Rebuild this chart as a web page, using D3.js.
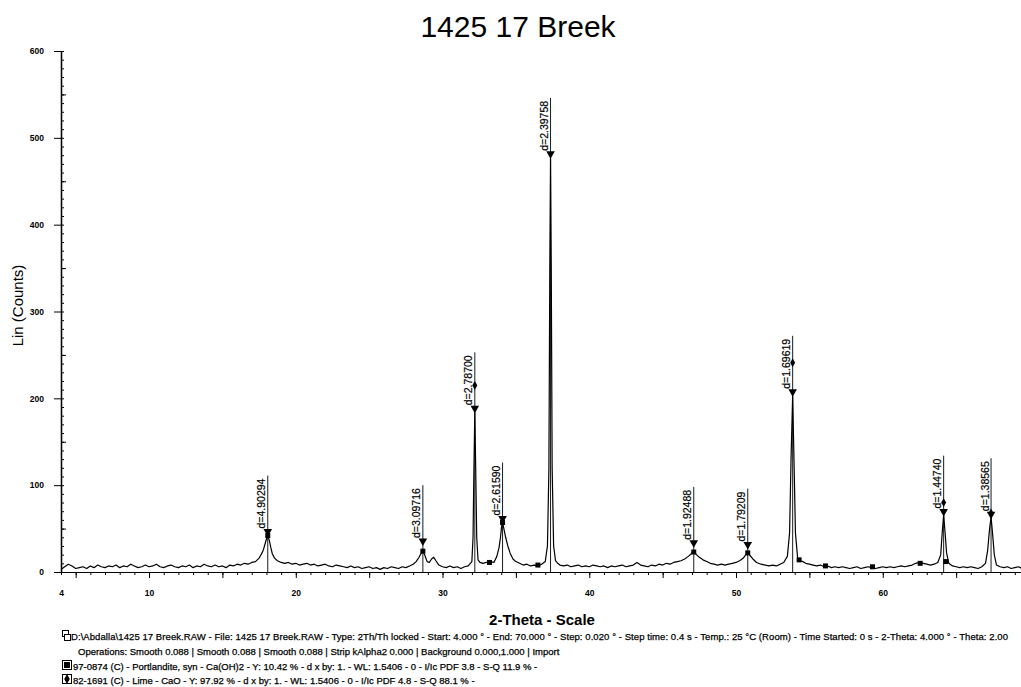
<!DOCTYPE html>
<html>
<head>
<meta charset="utf-8">
<script src="https://cdn.jsdelivr.net/npm/d3@7"></script>
<style>
  body { margin: 0; background: #fff; }
  svg { display: block; font-family: 'Liberation Sans', Arial, sans-serif; }
</style>
</head>
<body>
<svg id="chart" width="1021" height="687"></svg>
<script>
// scan: [2-theta, counts]
var scan = [
  [4.00, 3], [4.25, 6], [4.50, 9], [4.75, 7], [5.00, 4], [5.25, 5], [5.50, 6], [5.75, 4], [6.00, 7], [6.25, 5], [6.50, 8], [6.75, 6],
  [7.00, 5], [7.25, 7], [7.50, 6], [7.75, 8], [8.00, 5], [8.25, 7], [8.50, 6], [8.75, 9], [9.00, 7], [9.25, 5], [9.50, 6], [9.75, 8],
  [10.00, 6], [10.25, 7], [10.50, 9], [10.75, 6], [11.00, 5], [11.25, 7], [11.50, 8], [11.75, 6], [12.00, 5], [12.25, 7], [12.50, 6],
  [12.75, 8], [13.00, 5], [13.25, 7], [13.50, 6], [13.75, 9], [14.00, 7], [14.25, 6], [14.50, 8], [14.75, 6], [15.00, 7], [15.25, 5],
  [15.50, 8], [15.75, 7], [16.00, 9], [16.25, 8], [16.50, 10], [16.75, 9], [17.00, 11], [17.25, 12], [17.50, 16],
  [17.60, 19], [17.70, 22], [17.80, 26], [17.90, 32], [18.00, 38], [18.09, 42], [18.20, 36], [18.30, 28], [18.40, 21], [18.55, 16],
  [18.75, 13], [19.00, 11], [19.25, 10], [19.50, 11], [19.75, 9], [20.00, 10], [20.25, 8], [20.50, 9], [20.75, 10], [21.00, 8],
  [21.25, 9], [21.50, 7], [21.75, 8], [22.00, 9], [22.25, 7], [22.50, 6], [22.75, 8], [23.00, 7], [23.25, 6], [23.50, 5], [23.75, 7],
  [24.00, 5], [24.25, 6], [24.50, 4], [24.75, 5], [25.00, 6], [25.25, 4], [25.50, 5], [25.75, 3], [26.00, 5], [26.25, 4], [26.50, 6],
  [26.75, 5], [27.00, 4], [27.25, 6], [27.50, 5], [27.75, 7], [28.00, 9], [28.20, 12], [28.40, 17], [28.55, 22], [28.66, 25],
  [28.80, 19], [28.95, 12], [29.10, 11], [29.25, 15], [29.40, 17], [29.55, 13], [29.75, 8], [30.00, 6], [30.25, 5], [30.50, 7],
  [30.75, 5], [31.00, 6], [31.25, 4], [31.50, 6], [31.75, 7], [32.00, 12], [32.08, 40], [32.14, 120], [32.20, 184], [32.26, 120],
  [32.33, 40], [32.42, 14], [32.55, 11], [32.75, 10], [33.00, 11], [33.25, 12], [33.50, 11], [33.70, 18], [33.85, 28], [33.95, 40],
  [34.02, 52], [34.09, 57], [34.18, 50], [34.30, 40], [34.45, 30], [34.60, 22], [34.80, 15], [35.00, 12], [35.25, 10], [35.50, 8],
  [35.75, 9], [36.00, 7], [36.25, 8], [36.50, 7], [36.75, 9], [37.00, 12], [37.15, 30], [37.25, 120], [37.31, 350], [37.36, 477],
  [37.41, 350], [37.47, 120], [37.57, 30], [37.70, 13], [37.85, 10], [38.00, 8], [38.25, 7], [38.50, 8], [38.75, 6], [39.00, 7],
  [39.25, 8], [39.50, 6], [39.75, 7], [40.00, 6], [40.25, 8], [40.50, 7], [40.75, 6], [41.00, 7], [41.25, 5], [41.50, 7], [41.75, 6],
  [42.00, 7], [42.25, 8], [42.50, 6], [42.75, 7], [43.00, 8], [43.25, 11], [43.50, 8], [43.75, 7], [44.00, 6], [44.25, 8], [44.50, 7],
  [44.75, 9], [45.00, 8], [45.25, 10], [45.50, 9], [45.75, 11], [46.00, 12], [46.25, 13], [46.50, 15], [46.75, 18], [46.95, 21],
  [47.12, 24], [47.30, 20], [47.50, 17], [47.75, 14], [48.00, 12], [48.25, 10], [48.50, 9], [48.75, 8], [49.00, 9], [49.25, 8],
  [49.50, 9], [49.75, 10], [50.00, 11], [50.25, 13], [50.50, 16], [50.70, 21], [50.80, 23], [50.95, 19], [51.15, 15], [51.40, 11],
  [51.70, 9], [52.00, 8], [52.25, 7], [52.50, 8], [52.75, 7], [53.00, 9], [53.25, 11], [53.50, 18], [53.65, 45], [53.75, 130],
  [53.86, 203], [53.95, 130], [54.05, 45], [54.20, 16], [54.40, 13], [54.55, 12], [54.75, 10], [55.00, 9], [55.25, 8], [55.50, 7],
  [55.75, 8], [56.00, 6], [56.25, 7], [56.50, 5], [56.75, 6], [57.00, 5], [57.25, 6], [57.50, 5], [57.75, 4], [58.00, 5], [58.25, 6],
  [58.50, 4], [58.75, 5], [59.00, 6], [59.25, 5], [59.50, 4], [59.75, 5], [60.00, 6], [60.25, 5], [60.50, 6], [60.75, 5], [61.00, 6],
  [61.25, 7], [61.50, 6], [61.75, 7], [62.00, 8], [62.25, 10], [62.50, 11], [62.75, 10], [63.00, 9], [63.25, 8], [63.50, 9],
  [63.75, 11], [63.95, 20], [64.05, 45], [64.15, 66], [64.25, 45], [64.35, 22], [64.50, 10], [64.75, 7], [65.00, 6], [65.25, 5],
  [65.50, 6], [65.75, 5], [66.00, 6], [66.25, 5], [66.50, 4], [66.75, 6], [67.00, 10], [67.15, 25], [67.28, 50], [67.38, 63],
  [67.48, 45], [67.60, 20], [67.75, 8], [68.00, 6], [68.25, 5], [68.50, 6], [68.75, 4], [69.00, 5], [69.25, 6], [69.50, 4],
  [69.75, 5], [70.00, 4]
]

// peak search labels
var peakTheta = [18.09, 28.66, 32.20, 34.09, 37.36, 47.12, 50.80, 53.86, 64.15, 67.38]
var peakLabel = ['d=4.90294', 'd=3.09716', 'd=2.78700', 'd=2.61590', 'd=2.39758', 'd=1.92488', 'd=1.79209', 'd=1.69619', 'd=1.44740', 'd=1.38565']
var peakTop = [42, 31, 184, 57, 477, 29, 27, 203, 65, 62]

// phase sticks (marker heights in counts)
var portlanditeTheta = [18.09, 28.66, 33.20, 34.09, 36.50, 47.12, 50.80, 54.30, 56.10, 59.30, 62.55, 64.30]
var portlanditeTop = [42, 24, 11, 57, 8, 23, 22, 14, 7, 6, 10, 12]
var limeTheta = [32.20, 53.86, 64.15, 67.38]
var limeTop = [215, 241, 80, 68]

var xTickValues = [4, 10, 20, 30, 40, 50, 60]
var yTickValues = [0, 100, 200, 300, 400, 500, 600]

var title = '1425 17 Breek'
var xTitle = '2-Theta - Scale'
var yTitle = 'Lin (Counts)'
var infoLines = [
  'D:\\Abdalla\\1425 17 Breek.RAW - File: 1425 17 Breek.RAW - Type: 2Th/Th locked - Start: 4.000 ° - End: 70.000 ° - Step: 0.020 ° - Step time: 0.4 s - Temp.: 25 °C (Room) - Time Started: 0 s - 2-Theta: 4.000 ° - Theta: 2.00',
  'Operations: Smooth 0.088 | Smooth 0.088 | Smooth 0.088 | Strip kAlpha2 0.000 | Background 0.000,1.000 | Import',
  '97-0874 (C) - Portlandite, syn - Ca(OH)2 - Y: 10.42 % - d x by: 1. - WL: 1.5406 - 0 - I/Ic PDF 3.8 - S-Q 11.9 % -',
  '82-1691 (C) - Lime - CaO - Y: 97.92 % - d x by: 1. - WL: 1.5406 - 0 - I/Ic PDF 4.8 - S-Q 88.1 % -'
]

;(function (d3) {
  var svg = d3.select('#chart')

  var x = d3.scaleLinear().domain([4, 70]).range([61, 1029.5])
  var y = d3.scaleLinear().domain([0, 600]).range([572, 51])

  // title
  svg.append('text')
      .attr('x', 518).attr('y', 37)
      .attr('text-anchor', 'middle')
      .style('font-size', '30px')
      .text(title)

  // x axis: minor, mid and labelled ticks
  var gx = svg.append('g').attr('transform', `translate(0,${y(0)})`)
  gx.append('g').call(d3.axisBottom(x).tickValues(d3.range(4, 71)).tickSize(3).tickSizeOuter(0).tickFormat(''))
  gx.append('g').call(d3.axisBottom(x).tickValues(d3.range(5, 71, 5)).tickSize(6).tickSizeOuter(0).tickFormat(''))
  gx.append('g').call(d3.axisBottom(x).tickValues(xTickValues).tickSize(0).tickPadding(18).tickSizeOuter(0))
  gx.selectAll('.domain').attr('stroke', '#000').attr('stroke-width', 1.2)
  gx.selectAll('line').attr('stroke', '#000')
  gx.selectAll('text').style('font-size', '8.5px').style('font-weight', 'bold')

  // y axis
  var gy = svg.append('g').attr('transform', `translate(${x(4)},0)`)
  gy.append('g').call(d3.axisRight(y).tickValues(d3.range(0, 601, 10)).tickSize(3).tickSizeOuter(0).tickFormat(''))
  gy.append('g').call(d3.axisRight(y).tickValues(d3.range(50, 601, 100)).tickSize(5).tickSizeOuter(0).tickFormat(''))
  gy.append('g').call(d3.axisLeft(y).tickValues(yTickValues).tickSize(7).tickPadding(10).tickSizeOuter(0))
  gy.selectAll('.domain').attr('stroke', '#000').attr('stroke-width', 1.2)
  gy.selectAll('line').attr('stroke', '#000')
  gy.selectAll('text').style('font-size', '8.5px').style('font-weight', 'bold')

  svg.append('text')
      .attr('transform', `translate(23,${y(300) - 6}) rotate(-90)`)
      .attr('text-anchor', 'middle')
      .style('font-size', '15px')
      .text(yTitle)

  svg.append('text')
      .attr('x', 542).attr('y', 625)
      .attr('text-anchor', 'middle')
      .style('font-size', '15px')
      .style('font-weight', 'bold')
      .text(xTitle)

  // diffraction pattern
  var line = d3.line().x(d => x(d[0])).y(d => y(d[1]))
  svg.append('path')
      .datum(scan)
      .attr('d', line)
      .attr('fill', 'none')
      .attr('stroke', '#000')
      .attr('stroke-width', 1.2)
      .attr('stroke-linejoin', 'round')

  // d-spacing labels
  var peaks = peakTheta.map((t, i) => ({ theta: t, label: peakLabel[i], top: peakTop[i] }))
  var pg = svg.selectAll('g.peak').data(peaks).enter().append('g').attr('class', 'peak')

  pg.append('text')
      .attr('transform', d => `translate(${x(d.theta) - 2.5},${y(d.top) - 7}) rotate(-90)`)
      .style('font-size', '10.5px')
      .style('stroke', '#000')
      .style('stroke-width', 0.2)
      .text(d => d.label)
      .each(function (d) { d.len = this.getComputedTextLength() })

  pg.append('line')
      .attr('x1', d => x(d.theta)).attr('x2', d => x(d.theta))
      .attr('y1', y(0))
      .attr('y2', d => y(d.top) - 7 - d.len - 3)
      .attr('stroke', '#000')
      .attr('stroke-width', 0.9)

  pg.append('path')
      .attr('d', d3.symbol(d3.symbolTriangle, 32))
      .attr('transform', d => `translate(${x(d.theta)},${y(d.top) - 4}) rotate(180)`)
      .attr('fill', '#000')

  // phase markers
  svg.selectAll('rect.portlandite')
      .data(portlanditeTheta.map((t, i) => [t, portlanditeTop[i]]))
      .enter().append('rect')
      .attr('class', 'portlandite')
      .attr('x', d => x(d[0]) - 2.5).attr('y', d => y(d[1]) - 2.5)
      .attr('width', 5).attr('height', 5)
      .attr('fill', '#000')

  svg.selectAll('path.lime')
      .data(limeTheta.map((t, i) => [t, limeTop[i]]))
      .enter().append('path')
      .attr('class', 'lime')
      .attr('d', d3.symbol(d3.symbolDiamond, 22))
      .attr('transform', d => `translate(${x(d[0])},${y(d[1])})`)
      .attr('fill', '#000')

  // info block under the chart
  var infoX = [71, 78, 73, 73]
  var infoY = [640, 655, 670, 684]
  svg.selectAll('text.info')
      .data(infoLines)
      .enter().append('text')
      .attr('class', 'info')
      .attr('x', (d, i) => infoX[i])
      .attr('y', (d, i) => infoY[i])
      .style('font-size', '9.5px')
      .style('fill', '#000')
      .style('stroke', '#000')
      .style('stroke-width', 0.25)
      .text(d => d)
      .filter((d, i) => i === 0)
      .attr('textLength', 937)
      .attr('lengthAdjust', 'spacing')

  // small icons in front of the info lines
  var icons = svg.append('g').attr('fill', 'none').attr('stroke', '#000').attr('stroke-width', 1)
  icons.append('rect').attr('x', 62.5).attr('y', 630.5).attr('width', 6).attr('height', 6)
  icons.append('rect').attr('x', 64.5).attr('y', 634.5).attr('width', 6).attr('height', 6).attr('fill', '#fff')
  icons.append('rect').attr('x', 62.5).attr('y', 660.5).attr('width', 9).attr('height', 9)
  icons.append('rect').attr('x', 64.5).attr('y', 662.5).attr('width', 5).attr('height', 5).attr('fill', '#000')
  icons.append('rect').attr('x', 62.5).attr('y', 674.5).attr('width', 9).attr('height', 9)
  icons.append('path')
      .attr('d', d3.symbol(d3.symbolDiamond, 18))
      .attr('transform', 'translate(67,679)')
      .attr('fill', '#000')
})(window.d3)
</script>
</body>
</html>
